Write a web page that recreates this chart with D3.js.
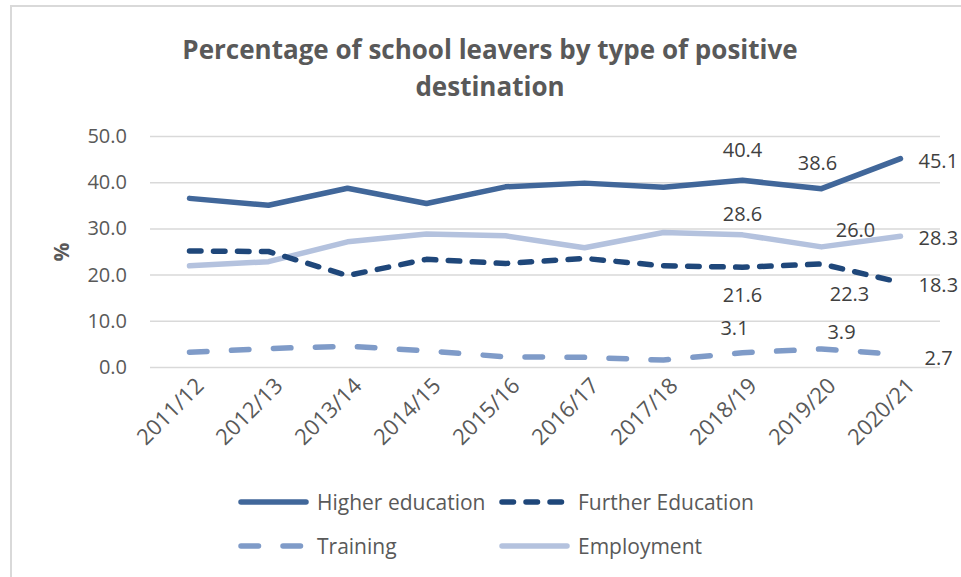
<!DOCTYPE html>
<html>
<head>
<meta charset="utf-8">
<script src="https://cdn.jsdelivr.net/npm/d3@7/dist/d3.min.js"></script>
<style>
  html, body { margin: 0; padding: 0; background: #ffffff; }
  svg { display: block; font-family: "Open Sans", "Noto Sans", sans-serif; }
</style>
</head>
<body>
<svg id="chart" width="961" height="577"></svg>
<script>
// School leavers by type of positive destination (%)
const years = ["2011/12", "2012/13", "2013/14", "2014/15", "2015/16",
               "2016/17", "2017/18", "2018/19", "2019/20", "2020/21"];
const higherEducation  = [36.5, 35.0, 38.7, 35.4, 39.0, 39.8, 38.9, 40.4, 38.6, 45.1];
const furtherEducation = [25.1, 25.0, 19.8, 23.3, 22.4, 23.5, 21.9, 21.6, 22.3, 18.3];
const training         = [3.2, 4.0, 4.5, 3.5, 2.2, 2.1, 1.5, 3.1, 3.9, 2.7];
const employment       = [21.9, 22.8, 27.1, 28.8, 28.4, 25.8, 29.1, 28.6, 26.0, 28.3];
const yTicks = [0, 10, 20, 30, 40, 50];

const titleLines = ["Percentage of school leavers by type of positive", "destination"];

// Series styling; drawing order puts Employment beneath the dashed lines
const series = [
  { name: "Higher education",   values: higherEducation,  color: "#41679a", dash: null,        labelled: [7, 8, 9] },
  { name: "Further Education",  values: furtherEducation, color: "#1f477a", dash: "11.5,12.5", labelled: [7, 8, 9] },
  { name: "Training",           values: training,         color: "#7f9bc8", dash: "17.5,24.5", labelled: [7, 8, 9] },
  { name: "Employment",         values: employment,       color: "#b4c2de", dash: null,        labelled: [7, 8, 9] }
];
const drawOrder = [3, 0, 1, 2];

// Hand-placed data-label offsets (dx, dy from the point, label centred unless anchored start)
const labelPlacement = {
  "Higher education":  { 7: [0, -31, "middle"], 8: [-4, -26, "middle"], 9: [18, 2, "start"] },
  "Further Education": { 7: [0, 27, "middle"],  8: [28, 30, "middle"],  9: [18, 2, "start"] },
  "Training":          { 7: [-8, -25, "middle"], 8: [20, -17, "middle"], 9: [24, 3, "start"] },
  "Employment":        { 7: [0, -21, "middle"], 8: [34, -17, "middle"], 9: [18, 1, "start"] }
};

const svg = d3.select("#chart");
const W = 961, H = 577;

// Chart frame
svg.append("rect")
  .attr("x", 11).attr("y", 6)
  .attr("width", W + 10).attr("height", H + 10)
  .attr("fill", "#ffffff")
  .attr("stroke", "#d9d9d9").attr("stroke-width", 2);

const plot = { left: 150, right: 940, top: 136, bottom: 367 };

const x = d3.scalePoint()
  .domain(years)
  .range([plot.left, plot.right])
  .padding(0.5);

const y = d3.scaleLinear()
  .domain([0, 50])
  .range([plot.bottom, plot.top]);

// Title
svg.append("text")
  .attr("x", 490).attr("y", 59)
  .attr("text-anchor", "middle")
  .attr("fill", "#595959")
  .attr("font-size", 26).attr("font-weight", "bold")
  .selectAll("tspan")
  .data(titleLines)
  .join("tspan")
  .attr("x", 490)
  .attr("dy", (d, i) => i === 0 ? 0 : 37)
  .text(d => d);

// Gridlines and y tick labels
const yAxis = d3.axisLeft(y)
  .tickValues(yTicks)
  .tickSize(-(plot.right - plot.left))
  .tickPadding(23)
  .tickFormat(d3.format(".1f"));

const yG = svg.append("g")
  .attr("transform", `translate(${plot.left},0)`)
  .call(yAxis);
yG.select(".domain").remove();
yG.selectAll(".tick line").attr("stroke", "#d9d9d9").attr("stroke-width", 1.5);
yG.selectAll(".tick text")
  .attr("fill", "#595959")
  .attr("font-size", 20)
  .attr("font-family", "\"Open Sans\", sans-serif");

// Y-axis title
svg.append("text")
  .attr("transform", "translate(69,252) rotate(-90)")
  .attr("text-anchor", "middle")
  .attr("fill", "#595959")
  .attr("font-size", 21).attr("font-weight", "bold")
  .text("%");

// X category labels, rotated
const xAxis = d3.axisBottom(x).tickSize(0).tickPadding(0);
const xG = svg.append("g")
  .attr("transform", `translate(0,${plot.bottom})`)
  .call(xAxis);
xG.select(".domain").remove();
xG.selectAll(".tick text")
  .attr("fill", "#595959")
  .attr("font-size", 22)
  .attr("font-family", "\"Open Sans\", sans-serif")
  .attr("text-anchor", "end")
  .attr("dy", null).attr("y", 0)
  .attr("transform", "translate(11,16) rotate(-45)")
  .attr("dominant-baseline", "middle");

// Series lines
const line = d3.line()
  .x((d, i) => x(years[i]))
  .y(d => y(d))
  .curve(d3.curveLinear);

drawOrder.forEach(k => {
  const s = series[k];
  svg.append("path")
    .datum(s.values)
    .attr("d", line)
    .attr("fill", "none")
    .attr("stroke", s.color)
    .attr("stroke-width", 5.5)
    .attr("stroke-linecap", "round")
    .attr("stroke-linejoin", "round")
    .attr("stroke-dasharray", s.dash);
});

// Data labels for the latest three years
series.forEach(s => {
  s.labelled.forEach(i => {
    const p = labelPlacement[s.name][i];
    svg.append("text")
      .attr("x", x(years[i]) + p[0])
      .attr("y", y(s.values[i]) + p[1])
      .attr("text-anchor", p[2])
      .attr("dominant-baseline", "central")
      .attr("fill", "#404040")
      .attr("font-size", 20)
      .text(d3.format(".1f")(s.values[i]));
  });
});

// Legend
const legendItems = [
  { s: series[0], lx: 238, ly: 502 },
  { s: series[1], lx: 499, ly: 502 },
  { s: series[2], lx: 238, ly: 546 },
  { s: series[3], lx: 499, ly: 546 }
];
const lg = svg.append("g");
legendItems.forEach(item => {
  lg.append("line")
    .attr("x1", item.lx + 3).attr("x2", item.lx + 68)
    .attr("y1", item.ly).attr("y2", item.ly)
    .attr("stroke", item.s.color)
    .attr("stroke-width", 5.5)
    .attr("stroke-linecap", "round")
    .attr("stroke-dasharray", item.s.dash);
  lg.append("text")
    .attr("x", item.lx + 79).attr("y", item.ly)
    .attr("dominant-baseline", "central")
    .attr("fill", "#595959")
    .attr("font-size", 21)
    .text(item.s.name);
});
</script>
</body>
</html>
